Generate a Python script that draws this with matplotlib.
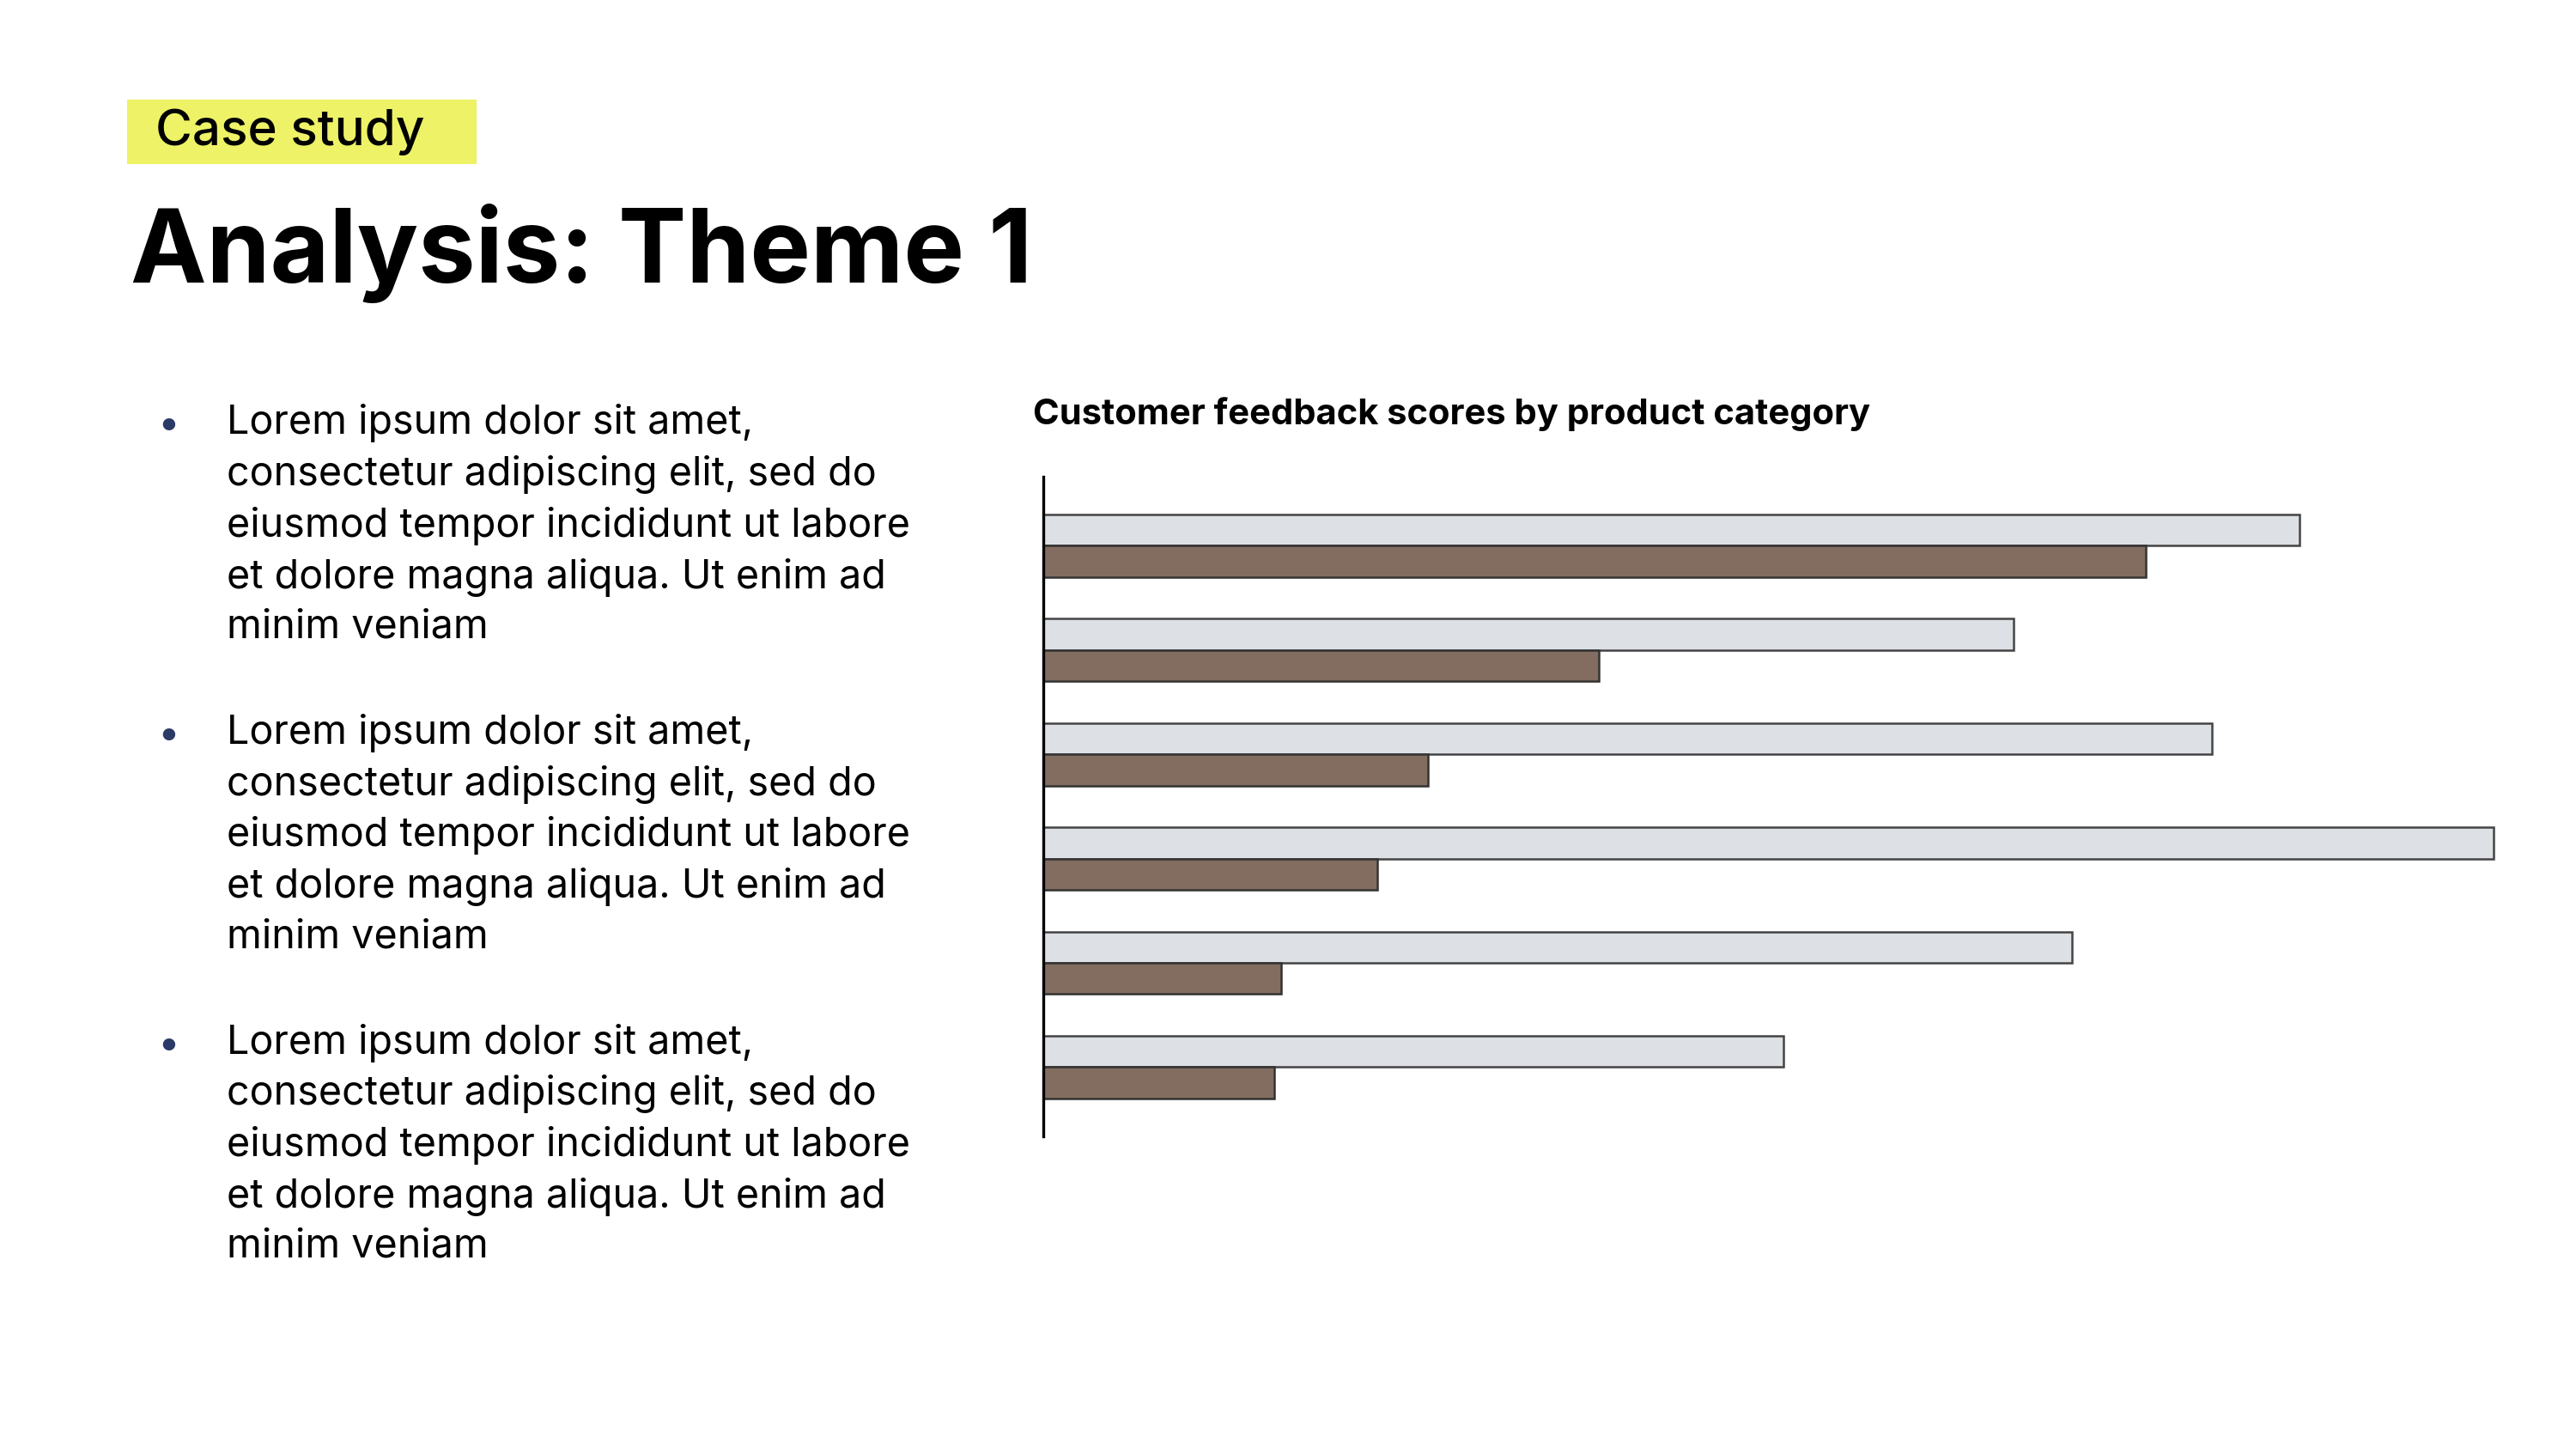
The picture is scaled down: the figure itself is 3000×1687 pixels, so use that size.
import numpy as np
import matplotlib.pyplot as plt

plt.rcParams["font.family"] = ["Inter", "DejaVu Sans"]

W, H = 1556, 875  # layout reference units

categories = ["A", "B", "C", "D", "E", "F"]
light_vals = [760, 587, 707, 877, 622, 448]
dark_vals = [667, 336, 233, 202, 144, 140]

bullet = ("Lorem ipsum dolor sit amet,\nconsectetur adipiscing elit, sed do\n"
          "eiusmod tempor incididunt ut labore\net dolore magna aliqua. Ut enim ad\nminim veniam")


def fx(x):
    return x / W


def fy(y):
    return 1 - y / H


fig = plt.figure(figsize=(10, 10 * 1687 / 3000), dpi=300)

# tag
fig.patches.append(plt.Rectangle((fx(78), fy(98)), fx(287 - 78), (98 - 61) / H,
                                 transform=fig.transFigure, color="#eef266", zorder=0))
fig.text(fx(94), fy(80), "Case study", fontsize=14, fontweight="medium", va="center")
fig.text(fx(79), fy(153), "Analysis: Theme 1", fontsize=28.5, fontweight="bold", va="center")

for y in [257, 444, 631]:
    fig.text(fx(102), fy(y), "•", fontsize=11, color="#2b3a67", va="center", ha="center")
    fig.text(fx(137), fy(y - 13), bullet, fontsize=11.2, va="top", linespacing=1.42)

fig.text(fx(624), fy(250), "Customer feedback scores by product category",
         fontsize=10, fontweight="bold", va="center")

ax = fig.add_axes([fx(630), fy(686), fx(1507 - 630), (686 - 288) / H])
y = np.arange(len(categories))
ax.barh(y - 0.15, light_vals, height=0.3, color="#dde0e4", edgecolor="#444444", linewidth=0.6)
ax.barh(y + 0.15, dark_vals, height=0.3, color="#826d60", edgecolor="#333333", linewidth=0.6)
ax.set_xlim(0, max(light_vals) + 1)
ax.set_ylim(len(categories) - 0.34, -0.66)
for s in ["top", "right", "bottom"]:
    ax.spines[s].set_visible(False)
ax.spines["left"].set_linewidth(0.8)
ax.set_xticks([])
ax.set_yticks([])

fig.savefig("out.png", dpi=300)
